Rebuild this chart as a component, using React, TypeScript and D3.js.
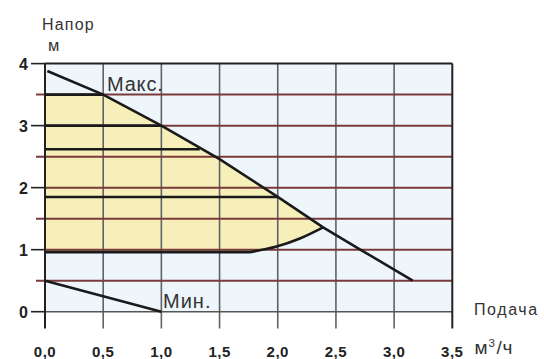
import React from "react";
import * as d3 from "d3";

// Flow axis (м³/ч) and head axis (м)
const flowTicks = [0, 0.5, 1.0, 1.5, 2.0, 2.5, 3.0, 3.5];
const flowLabels = ["0,0", "0,5", "1,0", "1,5", "2,0", "2,5", "3,0", "3,5"];
const headMajor = [0, 1, 2, 3, 4];
const headMinor = [0.5, 1.5, 2.5, 3.5];
const headGrid = [0.5, 1, 1.5, 2, 2.5, 3, 3.5];

// Maximum-speed curve
const maxFlow = [0.02, 0.5, 1.0, 1.5, 2.0, 2.39, 2.72, 3.16];
const maxHead = [3.88, 3.5, 3.0, 2.46, 1.85, 1.36, 0.99, 0.5];

// Minimum-speed curve
const minFlow = [0, 1.0];
const minHead = [0.5, 0];

// Constant-pressure settings (flat lines ending on the max curve)
const levelHead = [3.5, 3.0, 2.62, 1.85];
const levelEnd = [0.5, 1.0, 1.33, 2.0];

// Lowest setting: flat part then bending up to the max curve
const lowFlow = [1.76, 1.99, 2.19, 2.39];
const lowHead = [0.96, 1.05, 1.18, 1.36];
const lowStart = 0;

// Upper edge of the working range (top setting then max curve)
const upperFlow = [0, 0.5, 1.0, 1.5, 2.0, 2.39];
const upperHead = [3.5, 3.5, 3.0, 2.46, 1.85, 1.36];

const W = 544;
const H = 359;

export default function App() {
  const x = d3.scaleLinear().domain([0, 3.5]).range([45, 452.3]);
  const y = d3.scaleLinear().domain([0, 4]).range([311.7, 63.6]);
  const yBottom = 328.5;

  const lin = d3
    .line<[number, number]>()
    .x((d) => x(d[0]))
    .y((d) => y(d[1]));
  const mono = d3
    .line<[number, number]>()
    .x((d) => x(d[0]))
    .y((d) => y(d[1]))
    .curve(d3.curveMonotoneX);

  const maxPts = maxFlow.map((f, i) => [f, maxHead[i]] as [number, number]);
  const minPts = minFlow.map((f, i) => [f, minHead[i]] as [number, number]);
  const lowPts = lowFlow.map((f, i) => [f, lowHead[i]] as [number, number]);
  const upperPts = upperFlow.map((f, i) => [f, upperHead[i]] as [number, number]);

  const lowCurve = mono(lowPts) as string;
  const lowPath = `M${x(lowStart)},${y(lowHead[0])}` + lowCurve.replace(/^M/, "L");
  const upperRev = (lin(upperPts.slice().reverse()) as string).replace(/^M/, "L");
  const fillPath = lowPath + upperRev + "Z";

  const txt = "#333";
  const font = "'Liberation Sans', Arial, Helvetica, sans-serif";

  return (
    <svg
      width={W}
      height={H}
      style={{ position: "fixed", left: 0, top: 0, background: "#fff" }}
      fontFamily={font}
    >
      {/* plot background */}
      <rect
        x={x(0)}
        y={y(4)}
        width={x(3.5) - x(0)}
        height={y(0) - y(4)}
        fill="#eef6fc"
      />
      {/* working range */}
      <path d={fillPath} fill="#f6efb9" />

      {/* vertical grid, extending below as ticks */}
      {flowTicks.slice(1, -1).map((f) => (
        <line
          key={"v" + f}
          x1={x(f)}
          x2={x(f)}
          y1={y(4)}
          y2={yBottom}
          stroke="#5e6266"
          strokeWidth={1.6}
        />
      ))}

      {/* horizontal grid */}
      {headGrid.map((h) => (
        <line
          key={"h" + h}
          x1={headMinor.includes(h) ? 36 : x(0)}
          x2={x(3.5)}
          y1={y(h)}
          y2={y(h)}
          stroke="#7a3a3a"
          strokeWidth={2}
        />
      ))}
      <line x1={x(0)} x2={x(3.5)} y1={y(0)} y2={y(0)} stroke="#555" strokeWidth={1.5} />

      {/* major ticks */}
      {headMajor.map((h) => (
        <line
          key={"t" + h}
          x1={31}
          x2={x(0)}
          y1={y(h)}
          y2={y(h)}
          stroke="#222"
          strokeWidth={1.6}
        />
      ))}

      {/* frame */}
      <line x1={x(0)} x2={x(3.5)} y1={y(4)} y2={y(4)} stroke="#222" strokeWidth={2} />
      <line x1={x(0)} x2={x(0)} y1={y(4)} y2={yBottom} stroke="#222" strokeWidth={2} />
      <line x1={x(3.5)} x2={x(3.5)} y1={y(4)} y2={yBottom} stroke="#222" strokeWidth={2} />

      {/* constant-pressure lines */}
      {levelHead.map((h, i) => (
        <line
          key={"l" + h}
          x1={x(0)}
          x2={x(levelEnd[i])}
          y1={y(h)}
          y2={y(h)}
          stroke="#1a1a1a"
          strokeWidth={2.6}
        />
      ))}
      <path d={lowPath} fill="none" stroke="#1a1a1a" strokeWidth={2.6} />

      {/* max and min curves */}
      <path d={lin(maxPts) as string} fill="none" stroke="#1a1a1a" strokeWidth={2.6} />
      <path d={lin(minPts) as string} fill="none" stroke="#1a1a1a" strokeWidth={2.6} />

      {/* axis labels */}
      {headMajor.map((h) => (
        <text
          key={"yl" + h}
          x={28}
          y={y(h) + 6.5}
          textAnchor="end"
          fontSize={16}
          fontWeight="bold"
          fill="#222"
        >
          {h}
        </text>
      ))}
      {flowTicks.map((f, i) => (
        <text
          key={"xl" + f}
          x={x(f)}
          y={356.5}
          textAnchor="middle"
          fontSize={15}
          fontWeight="bold"
          fill="#222"
          letterSpacing={0.5}
        >
          {flowLabels[i]}
        </text>
      ))}

      <text x={42} y={30} fontSize={16} fill={txt} letterSpacing={1.2}>
        Напор
      </text>
      <text x={48} y={51} fontSize={16.5} fill={txt} letterSpacing={1}>
        м
      </text>
      <text x={107} y={90.5} fontSize={20} fill={txt} letterSpacing={0.8}>
        Макс.
      </text>
      <text x={163} y={308.3} fontSize={20} fill={txt} letterSpacing={1}>
        Мин.
      </text>
      <text x={474} y={315} fontSize={16} fill={txt} letterSpacing={1.6}>
        Подача
      </text>
      <text x={474.5} y={354.3} fontSize={19} fill={txt} letterSpacing={0.6}>
        м
        <tspan x={488.5} y={346.7} fontSize={11.5}>
          3
        </tspan>
        <tspan x={496.5} y={354.3}>
          /ч
        </tspan>
      </text>
    </svg>
  );
}
